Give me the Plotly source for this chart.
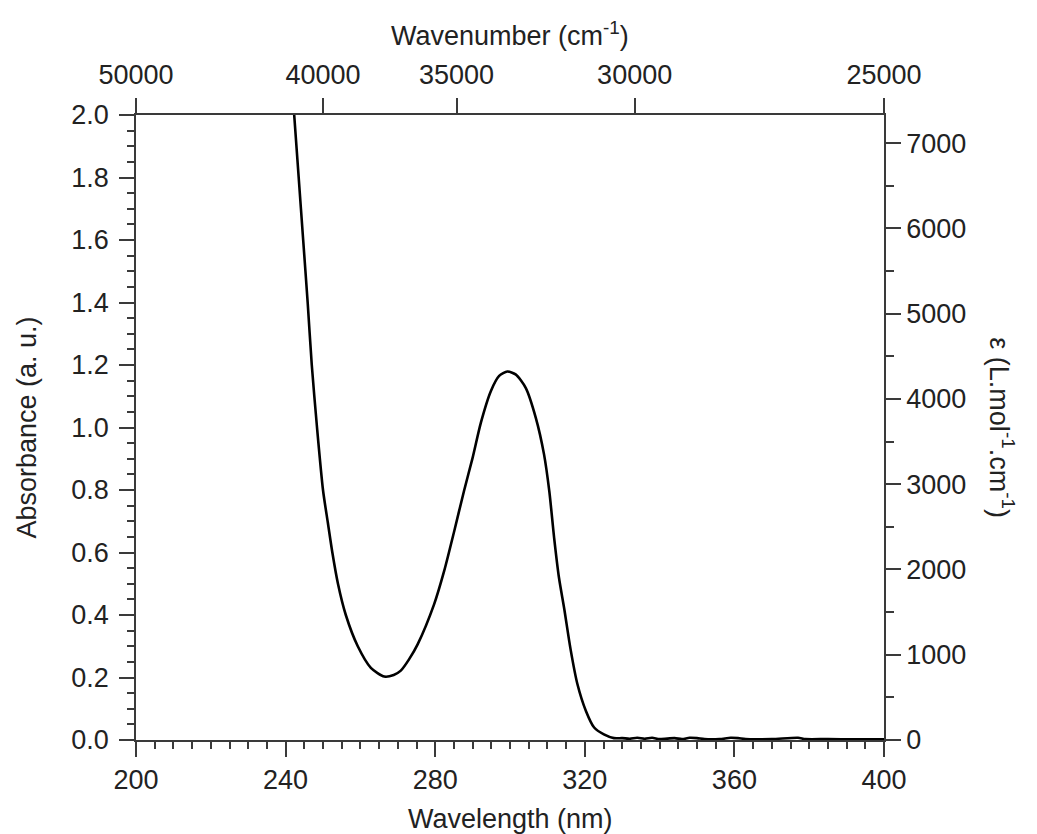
import plotly.graph_objects as go

# ---- data ----
wavelength_nm = [242.3, 243.5, 244.7, 245.9, 247.0, 248.4, 250.0, 251.3, 252.5, 254.0,
                 256.1, 259.3, 262.8, 266.4, 268.9, 270.8, 273.0, 275.3, 279.7, 282.4,
                 285.1, 287.7, 290.0, 292.2, 294.9, 297.1, 299.3, 301.5, 304.2, 306.9,
                 309.1, 310.5, 311.8, 313.1, 314.5, 316.2, 318.0, 320.3, 322.5, 325.1,
                 327.8, 330.0, 332.0, 334.0, 336.0, 338.0, 340.0, 344.0, 346.0, 348.0,
                 350.0, 352.0, 356.0, 359.0, 361.0, 363.0, 370.0, 377.0, 379.0, 385.0,
                 392.0, 400.0]
absorbance = [2.00, 1.80, 1.60, 1.40, 1.20, 1.00, 0.80, 0.695, 0.60, 0.50,
              0.40, 0.30, 0.231, 0.203, 0.208, 0.222, 0.258, 0.306, 0.434, 0.541,
              0.669, 0.797, 0.903, 1.015, 1.117, 1.165, 1.179, 1.170, 1.127, 1.031,
              0.914, 0.797, 0.647, 0.519, 0.42, 0.29, 0.18, 0.093, 0.040, 0.018,
              0.006, 0.006, 0.004, 0.007, 0.004, 0.007, 0.003, 0.006, 0.003, 0.007,
              0.006, 0.003, 0.003, 0.007, 0.006, 0.003, 0.003, 0.007, 0.003, 0.003,
              0.002, 0.002]

wavelength_ticks = [200, 240, 280, 320, 360, 400]
absorbance_ticks = [0.0, 0.2, 0.4, 0.6, 0.8, 1.0, 1.2, 1.4, 1.6, 1.8, 2.0]
wavenumber_ticks = [50000, 40000, 35000, 30000, 25000]
epsilon_ticks = [0, 1000, 2000, 3000, 4000, 5000, 6000, 7000]
epsilon_max = 7330      # right-axis value at absorbance 2.0
absorbance_max = 2.0

eps_per_abs = epsilon_max / absorbance_max
epsilon = [a * eps_per_abs for a in absorbance]

FONT = "Liberation Sans, Arial, sans-serif"
AXC = "#3a3a3a"
TXT = "#222222"
FS = 27

fig = go.Figure()
fig.add_trace(go.Scatter(x=wavelength_nm, y=absorbance, mode="lines",
                         line=dict(color="black", width=2.6, shape="spline", smoothing=0.7),
                         showlegend=False, xaxis="x", yaxis="y"))
fig.add_trace(go.Scatter(x=wavelength_nm, y=epsilon, mode="lines",
                         line=dict(color="rgba(0,0,0,0)", width=0), showlegend=False,
                         hoverinfo="skip", xaxis="x2", yaxis="y2"))

common = dict(showline=True, linecolor=AXC, linewidth=1.5, showgrid=False, zeroline=False,
              ticks="outside", tickcolor=AXC, tickwidth=1.5, ticklen=15,
              tickfont=dict(family=FONT, size=FS, color=TXT))

fig.update_layout(
    width=1037, height=834,
    margin=dict(l=128, r=161, t=107, b=102),
    paper_bgcolor="white", plot_bgcolor="white",
    xaxis=dict(range=[200, 400], tickvals=wavelength_ticks, ticklabelstandoff=0,
               minor=dict(dtick=5, ticks="outside", ticklen=7, tickcolor=AXC, tickwidth=1.5),
               **common),
    xaxis2=dict(range=[200, 400], overlaying="x", side="top", anchor="y",
                tickvals=[1e7 / w for w in wavenumber_ticks],
                ticktext=[str(w) for w in wavenumber_ticks], ticklabelstandoff=3,
                **common),
    yaxis=dict(range=[0, absorbance_max], tickvals=absorbance_ticks, tickformat=".1f",
               ticklabelstandoff=5,
               minor=dict(dtick=0.05, ticks="outside", ticklen=7, tickcolor=AXC, tickwidth=1.5),
               **common),
    yaxis2=dict(range=[0, epsilon_max], overlaying="y", side="right", anchor="x",
                tickvals=epsilon_ticks, tickprefix="\u00a0\u00a0\u2009",
                minor=dict(dtick=500, ticks="outside", ticklen=8, tickcolor=AXC, tickwidth=1.5),
                **common),
    annotations=[
        dict(text="Wavelength (nm)", xref="paper", yref="paper", x=0.5, y=-0.1264,
             showarrow=False, xanchor="center", yanchor="middle",
             font=dict(family=FONT, size=FS, color=TXT)),
        dict(text="Wavenumber (cm<sup>-1</sup>)", xref="paper", yref="paper", x=0.5, y=1.129,
             showarrow=False, xanchor="center", yanchor="middle",
             font=dict(family=FONT, size=FS, color=TXT)),
        dict(text="Absorbance (a. u.)", xref="paper", yref="paper", x=-0.147, y=0.5,
             showarrow=False, xanchor="center", yanchor="middle", textangle=-90,
             font=dict(family=FONT, size=FS, color=TXT)),
        dict(text="ε (L.mol<sup>-1</sup>.cm<sup>-1</sup>)", xref="paper", yref="paper",
             x=1.158, y=0.5, showarrow=False, xanchor="center", yanchor="middle",
             textangle=90, font=dict(family=FONT, size=FS, color=TXT)),
    ],
)

fig.write_html("out.html")
